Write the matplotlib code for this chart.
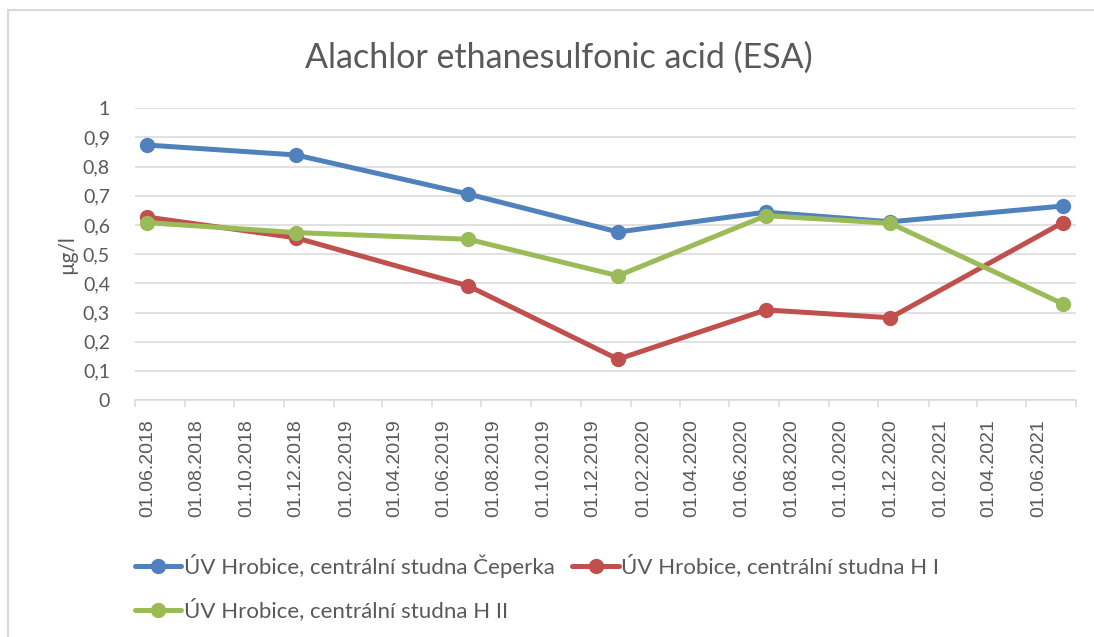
import matplotlib
matplotlib.use("Agg")
import matplotlib.pyplot as plt
import matplotlib.dates as mdates
from matplotlib.lines import Line2D
from matplotlib.ticker import FuncFormatter, MultipleLocator, FixedLocator
import numpy as np

# data
sample_dates = ["2018-06-16", "2018-12-16", "2019-07-16", "2020-01-16",
                "2020-07-16", "2020-12-16", "2021-07-16"]
ceperka = [0.874, 0.840, 0.706, 0.576, 0.644, 0.611, 0.665]
h_one = [0.627, 0.556, 0.391, 0.140, 0.309, 0.282, 0.608]
h_two = [0.608, 0.574, 0.551, 0.426, 0.632, 0.606, 0.330]

series_names = [
    "ÚV Hrobice, centrální studna Čeperka",
    "ÚV Hrobice, centrální studna H I",
    "ÚV Hrobice, centrální studna H II",
]
series_colors = ["#4F81BD", "#C0504D", "#9BBB59"]

axis_start = "2018-06-01"
axis_end = "2021-08-01"
tick_dates = [f"{y}-{m:02d}-01" for y in (2018, 2019, 2020, 2021)
              for m in (2, 4, 6, 8, 10, 12)]
tick_dates = [d for d in tick_dates if axis_start <= d <= axis_end]
label_dates = [d for d in tick_dates if d < axis_end]

plt.rcParams["font.family"] = ["Lato", "DejaVu Sans"]
text_grey = "#595959"

fig = plt.figure(figsize=(10.94, 6.37), dpi=100)
ax = fig.add_axes([0.1234, 0.372, 0.8599, 0.458])

dates = np.array(sample_dates, dtype="datetime64[D]")
lines = []
for values, name, color in zip([ceperka, h_one, h_two], series_names, series_colors):
    ln, = ax.plot(dates, values, color=color, linewidth=3.6, marker="o",
                  markersize=10, label=name, solid_capstyle="round", zorder=3)
    lines.append(ln)

ax.set_xlim(np.datetime64(axis_start), np.datetime64(axis_end))
ax.set_ylim(0, 1)
ax.yaxis.set_major_locator(MultipleLocator(0.1))
ax.yaxis.set_major_formatter(FuncFormatter(
    lambda v, _: "0" if abs(v) < 1e-9 else ("1" if abs(v - 1) < 1e-9 else f"{v:.1f}".replace(".", ","))))
ax.grid(axis="y", color="#D9D9D9", linewidth=1.1, zorder=0)
ax.set_axisbelow(True)

# tick marks on the 1st of the month, labels centred on the month slot
major = mdates.date2num(np.array(tick_dates, dtype="datetime64[D]"))
minor = mdates.date2num(np.array(label_dates, dtype="datetime64[D]")) + 15.2
ax.xaxis.set_major_locator(FixedLocator(major))
ax.xaxis.set_major_formatter(FuncFormatter(lambda v, _: ""))
ax.xaxis.set_minor_locator(FixedLocator(minor))
ax.xaxis.set_minor_formatter(FuncFormatter(
    lambda v, _: mdates.num2date(v - 15.2).strftime("%d.%m.%Y")))
for lbl in ax.get_xticklabels(minor=True):
    lbl.set_rotation(90)
    lbl.set_family(["Liberation Sans", "DejaVu Sans"])

for side in ("top", "right", "left"):
    ax.spines[side].set_visible(False)
ax.spines["bottom"].set_color("#D9D9D9")
ax.spines["bottom"].set_linewidth(1.1)

ax.tick_params(axis="x", which="major", direction="out", length=5, width=1.1,
               color="#D9D9D9")
ax.tick_params(axis="x", which="minor", length=0, labelsize=14,
               labelcolor=text_grey, pad=14)
ax.tick_params(axis="y", length=0, labelsize=14, labelcolor=text_grey, pad=18)

ax.set_ylabel("µg/l", fontsize=15, color=text_grey, labelpad=4)
fig.text(0.511, 0.91, "Alachlor ethanesulfonic acid (ESA)", ha="center", va="center",
         fontsize=24.5, color=text_grey)

# legend is filled column by column: reorder so rows read Čeperka, H I / H II
order = [0, 2, 1]
fig.legend([lines[i] for i in order], [series_names[i] for i in order],
           loc="upper left", bbox_to_anchor=(0.115, 0.145), ncol=2,
           frameon=False, fontsize=16, labelcolor=text_grey, handlelength=2.1,
           handletextpad=0.1, columnspacing=0.8, labelspacing=0.95,
           borderaxespad=0)

# partial chart border (left and top edges only, like the cropped screenshot)
fig.add_artist(Line2D([8 / 1094, 8 / 1094], [0, 1 - 10 / 637], color="#D9D9D9",
                      linewidth=1.5, transform=fig.transFigure))
fig.add_artist(Line2D([8 / 1094, 1], [1 - 10 / 637, 1 - 10 / 637], color="#D9D9D9",
                      linewidth=1.5, transform=fig.transFigure))

fig.savefig("out.png", dpi=100)
